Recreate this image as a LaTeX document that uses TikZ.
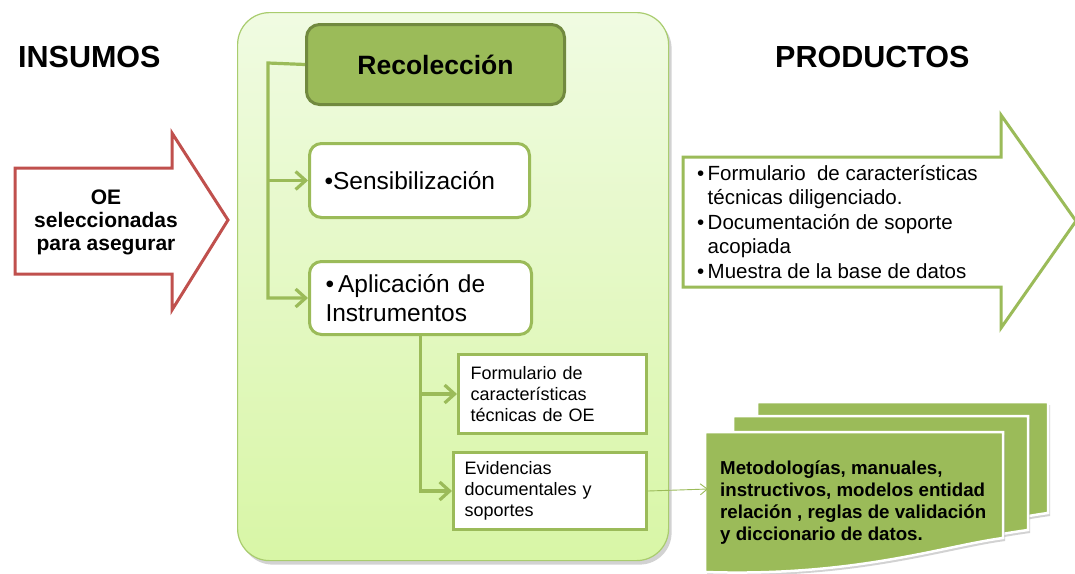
\documentclass[tikz,border=0pt]{standalone}
\usepackage{fontspec}
\setmainfont{Liberation Sans}
\usetikzlibrary{arrows.meta,shadows}
\definecolor{ogreen}{HTML}{9BBB59}
\definecolor{dgreen}{HTML}{71893F}
\definecolor{pantop}{HTML}{F0FBE2}
\definecolor{panbot}{HTML}{D8F6A6}
\definecolor{panedge}{HTML}{A9CC6E}
\definecolor{ored}{HTML}{C0504D}
\begin{document}
\begin{tikzpicture}[x=1pt,y=-1pt,
  title/.style={font=\fontsize{30.5}{36}\selectfont\bfseries, anchor=base west, inner sep=0},
  panel/.style={draw=panedge, line width=1.2pt, top color=pantop, bottom color=panbot,
    rounded corners=32pt, anchor=north west,
    drop shadow={opacity=0.35, shadow xshift=3pt, shadow yshift=-4pt}},
  recbox/.style={draw=dgreen, line width=3pt, fill=ogreen, rounded corners=13pt,
    anchor=north west, font=\fontsize{26.5}{30}\selectfont\bfseries},
  rbox/.style={draw=ogreen, line width=3pt, fill=white, rounded corners=12pt,
    anchor=north west, align=left, inner xsep=15pt, text width=190pt,
    font=\fontsize{24.5}{29.5}\selectfont},
  sbox/.style={draw=ogreen, line width=3pt, fill=white, anchor=north west,
    align=left, font=\fontsize{18}{21}\selectfont},
  conn/.style={draw=ogreen, line width=3.2pt},
  barb/.style={-{Straight Barb[length=10pt,width=18pt]}},
  thinarrow/.style={draw=ogreen, line width=0.9pt, -{Straight Barb[length=7pt,width=11pt]}},
  bigarrow/.style={line width=3pt, fill=white, line join=miter},
  docsheet/.style={fill=ogreen, draw=white, line width=2.5pt,
    drop shadow={opacity=0.35, shadow xshift=2pt, shadow yshift=-3pt}}
]
\useasboundingbox (0,0) rectangle (1075,573);
\fill[white] (0,0) rectangle (1075,573);

% titles
\node[title] (ins) at (18,67) {INSUMOS};
\node[title] (prod) at (775,67) {PRODUCTOS};

% input arrow
\draw[bigarrow, draw=ored] (15,168) -- (172,168) -- (172,133) -- (228,220)
  -- (172,310) -- (172,274) -- (15,274) -- cycle;
\node[font=\fontsize{21}{23}\selectfont\bfseries, align=center] (oe) at (106,222)
  {OE\\seleccionadas\\para asegurar};

% central panel
\node[panel, minimum width=431pt, minimum height=548pt] (pan) at (237,12) {};

\node[recbox, minimum width=258pt, minimum height=80pt] (rec) at (305,23) {Recolección};
\node[rbox, minimum width=220pt, minimum height=74pt] (sens) at (308,142) {•Sensibilización};
\node[rbox, minimum width=222pt, minimum height=73pt] (apl) at (308,260) {•\,Aplicación de\\Instrumentos};
\node[sbox, minimum width=188pt, minimum height=79pt, inner xsep=12pt, text width=164pt] (form) at (457,353)
  {Formulario de\\características\\técnicas de OE};
\node[sbox, minimum width=193pt, minimum height=77pt, inner xsep=11pt, text width=171pt] (evi) at (452,451)
  {Evidencias\\documentales y\\soportes};

\coordinate (trunk) at (268,63);
\draw[conn, barb] (rec.west) -- (trunk) |- (apl.west);
\draw[conn, barb] (trunk |- sens.west) -- (sens.west);
\draw[conn, barb] (apl.south) |- (evi.west);
\draw[conn, barb] (apl.south |- form.west) -- (form.west);

% products arrow
\draw[bigarrow, draw=ogreen] (683,157) -- (1001,157) -- (1001,115) -- (1076,221)
  -- (1001,328) -- (1001,287) -- (683,287) -- cycle;
\node[anchor=base west, inner sep=0, font=\fontsize{20.5}{24.5}\selectfont] (prodtext) at (697,180)
  {\parbox[t]{370pt}{\makebox[10.5pt][l]{•}Formulario\ \ de características\\
   \hspace*{10.5pt}técnicas diligenciado.\\
   \makebox[10.5pt][l]{•}Documentación de soporte\\
   \hspace*{10.5pt}acopiada\\
   \makebox[10.5pt][l]{•}Muestra de la base de datos}};

% document stack
\foreach \x/\y/\w/\h in {757/402/291/111, 733/416/295/114, 705/432/298/106} {
  \draw[docsheet] (\x,\y) -- ++(\w,0) -- ++(0,\h)
    .. controls +(-60,8) and +(150,5) .. ({\x},{\y+140}) -- cycle;
}
\node[anchor=base west, inner sep=0, font=\fontsize{18.7}{22.3}\selectfont\bfseries] (doctext) at (720,474)
  {\parbox[t]{300pt}{Metodologías, manuales,\\instructivos, modelos entidad\\relación , reglas de validación\\y diccionario de datos.}};

\coordinate (docin) at (708,489);
\draw[thinarrow] (evi.east) -- (docin);
\end{tikzpicture}
\end{document}
